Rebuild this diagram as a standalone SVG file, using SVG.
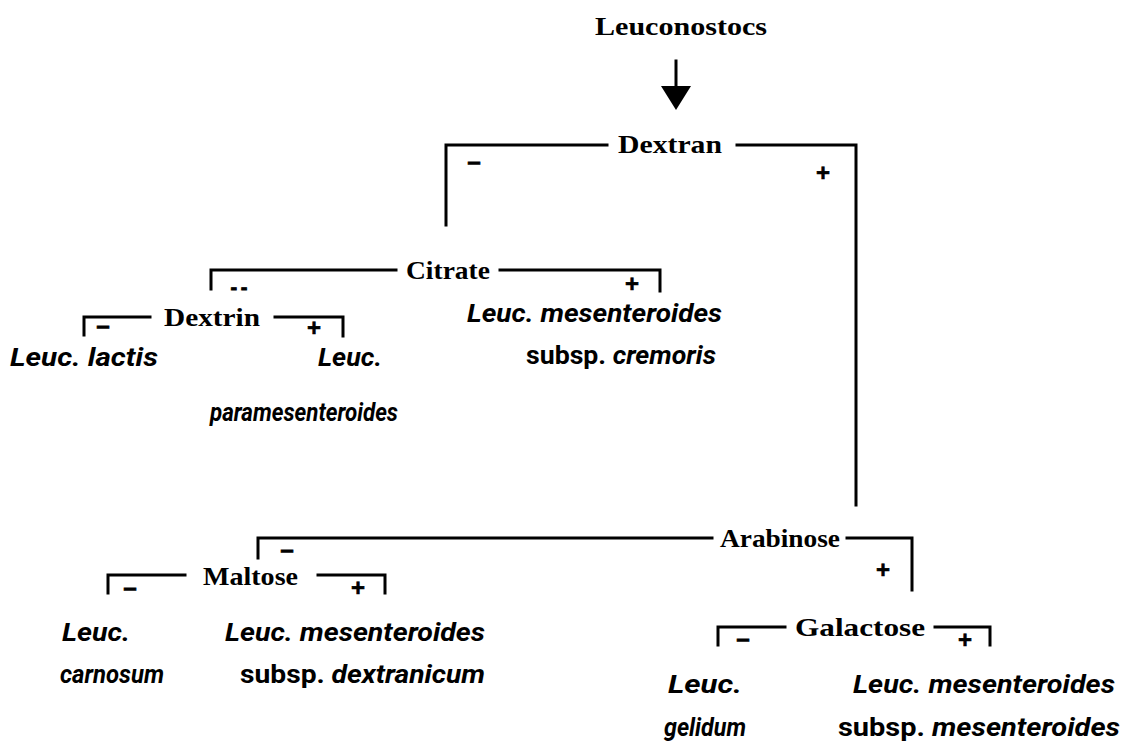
<svg xmlns="http://www.w3.org/2000/svg" width="1126" height="746" viewBox="0 0 1126 746">
<style>
.lbl{font-family:"Liberation Serif","Times New Roman",serif;font-weight:bold;font-size:26px;fill:#000}
.sp{font-family:Roboto,"Open Sans","Liberation Sans",sans-serif;font-weight:bold;font-style:italic;font-size:26px;fill:#000}
.up{font-style:normal}
.sg{font-family:"Liberation Sans",Arial,sans-serif;font-weight:bold;font-size:24px;fill:#000;stroke:#000;stroke-width:0.6;text-anchor:middle}
.ln{fill:none;stroke:#000;stroke-width:3;stroke-linecap:square}
</style>
<rect width="1126" height="746" fill="#fff"/>
<g id="connectors">
<line class="ln" x1="676" y1="61" x2="676" y2="88"/>
<path d="M661,86 L691,86 L676,110 z" fill="#000"/>
<path class="ln" d="M446,225 V145 H607"/>
<path class="ln" d="M737,145 H856 V505"/>
<path class="ln" d="M211,289 V270 H396"/>
<path class="ln" d="M500,270 H660 V291"/>
<path class="ln" d="M84,335 V317 H150"/>
<path class="ln" d="M275,317 H343 V336"/>
<path class="ln" d="M258,558 V538 H712"/>
<path class="ln" d="M847,538 H912 V590"/>
<path class="ln" d="M108,593 V575 H185"/>
<path class="ln" d="M318,575 H385 V593"/>
<path class="ln" d="M718,645 V627 H785"/>
<path class="ln" d="M935,627 H990 V645"/>
</g>
<g id="leuconostocs"><text class="lbl" x="595" y="35" textLength="172" lengthAdjust="spacingAndGlyphs">Leuconostocs</text></g>
<g id="dextran">
<text class="lbl" x="618" y="153" textLength="104" lengthAdjust="spacingAndGlyphs">Dextran</text>
<text class="sg" x="474" y="171">−</text>
<text class="sg" x="823" y="181">+</text>
</g>
<g id="citrate">
<text class="lbl" x="406" y="279" textLength="84" lengthAdjust="spacingAndGlyphs">Citrate</text>
<text class="sg" x="239" y="294" style="font-size:20px;stroke-width:0.8" textLength="17" lengthAdjust="spacing">--</text>
<text class="sg" x="632" y="292">+</text>
</g>
<g id="dextrin">
<text class="lbl" x="164" y="326" textLength="96" lengthAdjust="spacingAndGlyphs">Dextrin</text>
<text class="sg" x="103" y="335">−</text>
<text class="sg" x="314" y="336">+</text>
</g>
<g id="lactis"><text class="sp" x="10" y="366" textLength="148" lengthAdjust="spacingAndGlyphs">Leuc. lactis</text></g>
<g id="paramesenteroides">
<text class="sp" x="318" y="366" textLength="64" lengthAdjust="spacingAndGlyphs">Leuc.</text>
<text class="sp" x="210" y="421" textLength="188" lengthAdjust="spacingAndGlyphs">paramesenteroides</text>
</g>
<g id="cremoris">
<text class="sp" x="467" y="322" textLength="255" lengthAdjust="spacingAndGlyphs">Leuc. mesenteroides</text>
<text class="sp" x="526" y="364" textLength="190" lengthAdjust="spacingAndGlyphs"><tspan class="up">subsp.</tspan> cremoris</text>
</g>
<g id="arabinose">
<text class="lbl" x="720" y="547" textLength="120" lengthAdjust="spacingAndGlyphs">Arabinose</text>
<text class="sg" x="287" y="559">−</text>
<text class="sg" x="883" y="578">+</text>
</g>
<g id="maltose">
<text class="lbl" x="203" y="585" textLength="95" lengthAdjust="spacingAndGlyphs">Maltose</text>
<text class="sg" x="130" y="597">−</text>
<text class="sg" x="358" y="596">+</text>
</g>
<g id="carnosum">
<text class="sp" x="62" y="641" textLength="68" lengthAdjust="spacingAndGlyphs">Leuc.</text>
<text class="sp" x="60" y="683" textLength="104" lengthAdjust="spacingAndGlyphs">carnosum</text>
</g>
<g id="dextranicum">
<text class="sp" x="225" y="641" textLength="260" lengthAdjust="spacingAndGlyphs">Leuc. mesenteroides</text>
<text class="sp" x="240" y="683" textLength="245" lengthAdjust="spacingAndGlyphs"><tspan class="up">subsp.</tspan> dextranicum</text>
</g>
<g id="galactose">
<text class="lbl" x="795" y="636" textLength="130" lengthAdjust="spacingAndGlyphs">Galactose</text>
<text class="sg" x="743" y="648">−</text>
<text class="sg" x="965" y="648">+</text>
</g>
<g id="gelidum">
<text class="sp" x="668" y="693" textLength="74" lengthAdjust="spacingAndGlyphs">Leuc.</text>
<text class="sp" x="664" y="736" textLength="82" lengthAdjust="spacingAndGlyphs">gelidum</text>
</g>
<g id="mesenteroides">
<text class="sp" x="853" y="693" textLength="262" lengthAdjust="spacingAndGlyphs">Leuc. mesenteroides</text>
<text class="sp" x="838" y="736" textLength="282" lengthAdjust="spacingAndGlyphs"><tspan class="up">subsp.</tspan> mesenteroides</text>
</g>
</svg>
